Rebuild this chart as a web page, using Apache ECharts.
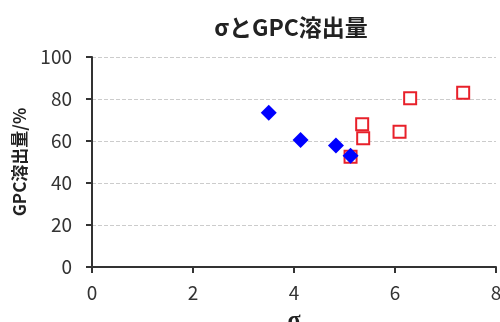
<!DOCTYPE html>
<html><head><meta charset="utf-8">
<script src="https://cdn.jsdelivr.net/npm/echarts@6/dist/echarts.min.js"></script>
<style>html,body{margin:0;padding:0;background:#fff}#c{width:500px;height:322px}</style>
</head><body><div id="c"></div>
<script>
const blueX = [3.50, 4.13, 4.83, 5.12];
const blueY = [73.5, 60.5, 57.8, 53.0];
const redX = [5.12, 5.35, 5.37, 6.09, 6.30, 7.35];
const redY = [52.5, 68.0, 61.3, 64.4, 80.3, 83.0];
const xTicks = [0, 2, 4, 6, 8];
const yTicks = [0, 20, 40, 60, 80, 100];

const font = '"Noto Sans CJK JP", "Open Sans", sans-serif';
const chart = echarts.init(document.getElementById('c'));
chart.setOption({
  animation: false,
  title: { text: 'σとGPC溶出量', left: 286, top: 11, textAlign: 'center',
    textStyle: { fontFamily: font, fontSize: 23, fontWeight: 'bold', color: '#222' } },
  grid: { left: 92, right: 4, top: 57, bottom: 55, outerBoundsMode: 'none', containLabel: false },
  xAxis: { type: 'value', min: 0, max: 8, interval: 2, name: 'σ', nameLocation: 'middle', nameGap: 42,
    nameTextStyle: { fontFamily: '"Liberation Serif", serif', fontSize: 24, fontWeight: 'bold', color: '#222' },
    axisLine: { lineStyle: { color: '#333', width: 2 } },
    axisTick: { show: true, length: 6, lineStyle: { color: '#333', width: 2 } },
    axisLabel: { fontFamily: font, fontSize: 19, color: '#333', margin: 16, formatter: v => xTicks.includes(v) ? String(v) : '' },
    splitLine: { show: false } },
  yAxis: { type: 'value', min: 0, max: 100, interval: 20, name: 'GPC溶出量/%', nameLocation: 'middle', nameGap: 64,
    nameTextStyle: { fontFamily: font, fontSize: 17, fontWeight: 'bold', color: '#222' },
    axisLine: { show: true, lineStyle: { color: '#333', width: 2 } },
    axisTick: { show: true, length: 6, lineStyle: { color: '#333', width: 2 } },
    axisLabel: { fontFamily: font, fontSize: 19, color: '#333', margin: 20, formatter: v => yTicks.includes(v) ? String(v) : '' },
    splitLine: { show: true, lineStyle: { color: '#ccc', type: 'dashed', width: 1 } } },
  series: [
    { type: 'scatter', data: redX.map((x, i) => [x, redY[i]]), symbol: 'rect', symbolSize: 12,
      itemStyle: { color: '#fff', borderColor: '#e8202a', borderWidth: 2, opacity: 1 } },
    { type: 'scatter', data: blueX.map((x, i) => [x, blueY[i]]), symbol: 'diamond', symbolSize: [16, 16],
      itemStyle: { color: '#0000ff', opacity: 1 } }
  ]
});
</script></body></html>
